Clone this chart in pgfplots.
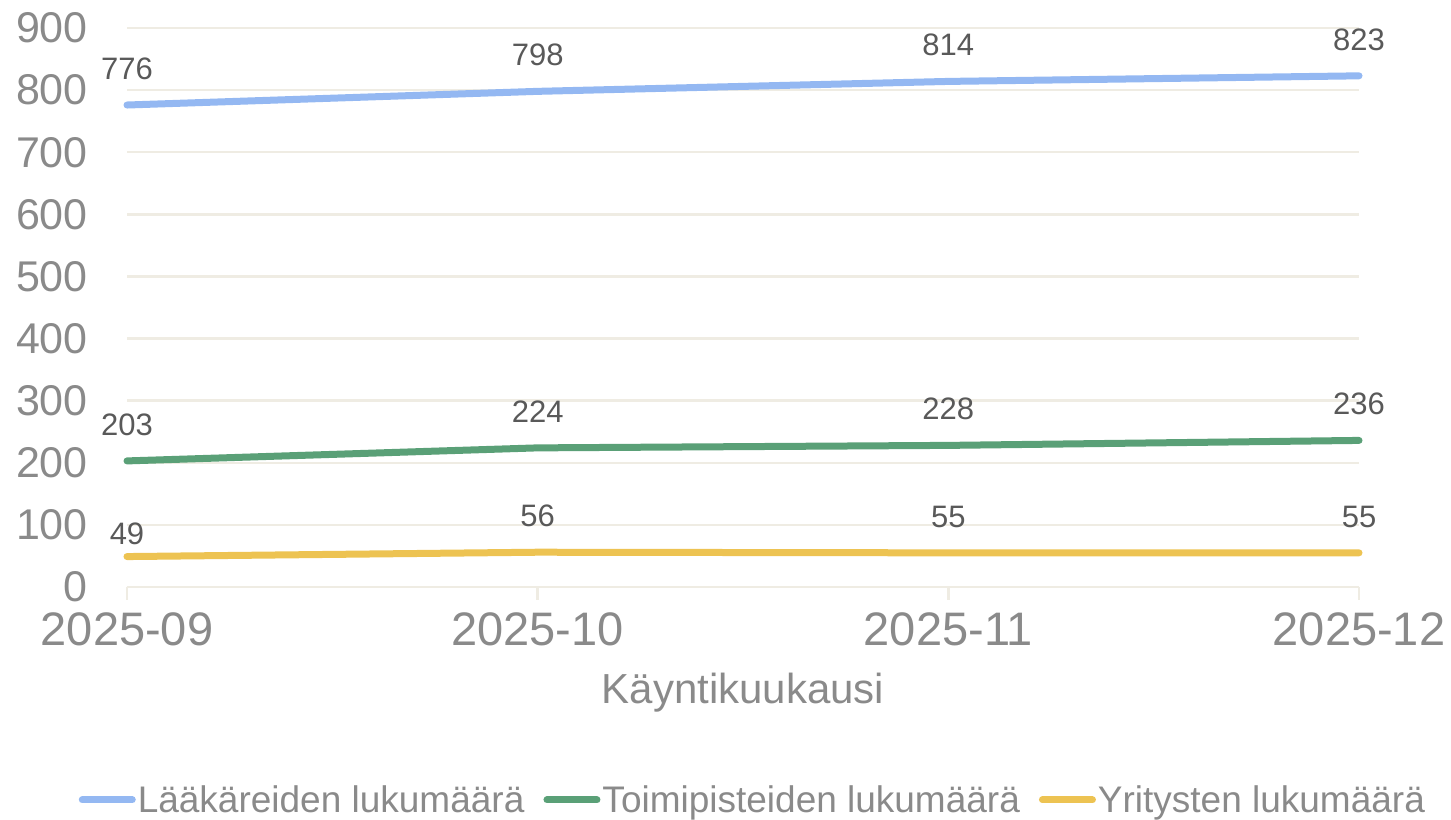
\documentclass[border=0pt]{standalone}
\usepackage{pgfplots}
\usepackage{pgfplotstable}
\pgfplotsset{compat=1.18}
\usepackage{fontspec}
\setmainfont{Liberation Sans}
\definecolor{cblue}{HTML}{94B8F2}
\definecolor{cgreen}{HTML}{5AA077}
\definecolor{cyellow}{HTML}{EDC352}
\definecolor{cgrid}{HTML}{EFECE3}
\definecolor{ctick}{HTML}{8A8A8A}
\definecolor{clabel}{HTML}{595959}

\pgfplotstableread{
x y dy
0 776 22
1 798 22
2 814 22
3 823 22
}\laak
\pgfplotstableread{
x y dy
0 203 22
1 224 22
2 228 22
3 236 22
}\toimi
\pgfplotstableread{
x y dy
0 49 8
1 56 22
2 55 22
3 55 22
}\yrit

\begin{document}
\begin{tikzpicture}[x=1bp,y=1bp]
\useasboundingbox (-127,-232) rectangle (1324,587);
\begin{axis}[
  at={(0,0)}, anchor=south west,
  scale only axis, width=1232bp, height=559bp,
  clip=false,
  xmin=0, xmax=3, ymin=0, ymax=900,
  xtick={0,1,2,3},
  xticklabels={2025-09,2025-10,2025-11,2025-12},
  ytick={0,100,...,900},
  /pgf/number format/assume math mode=true,
  axis x line*=bottom, axis y line*=left,
  x axis line style={draw=cgrid, line width=2.5bp, -},
  y axis line style={draw=none},
  ymajorgrids,
  grid style={draw=cgrid, line width=2.5bp},
  tick align=outside,
  major tick length=13bp,
  xtick style={draw=cgrid, line width=2.5bp},
  ytick style={draw=none},
  xticklabel style={font=\fontsize{47bp}{50bp}\selectfont, text=ctick, inner sep=0pt, anchor=north, yshift=-12bp},
  yticklabel style={font=\fontsize{43bp}{46bp}\selectfont, text=ctick, inner sep=0pt, anchor=east, xshift=-26bp},
  xlabel={Käyntikuukausi},
  xlabel style={font=\fontsize{42bp}{46bp}\selectfont, text=ctick, at={(axis description cs:0.5,0)}, anchor=center, yshift=-106bp},
  nodes near coords,
  every node near coord/.append style={font=\fontsize{31bp}{34bp}\selectfont, text=clabel, inner sep=0pt, anchor=south, yshift=\dy bp},
  visualization depends on={\thisrow{dy} \as \dy},
  point meta=explicit symbolic,
  legend columns=3,
  legend style={at={(0.508,-0.381)}, anchor=center, draw=none, fill=none,
    font=\fontsize{37bp}{40bp}\selectfont, text=ctick,
    /tikz/every even column/.append style={column sep=17bp},
    nodes={inner sep=2bp}},
  legend cell align=left,
  legend image code/.code={\draw[line width=7bp, line cap=round] (0bp,0bp) -- (50bp,0bp);},
]
\addplot[cblue, line width=7bp, line cap=round] table[x=x, y=y, meta=y] {\laak};
\addlegendentry{Lääkäreiden lukumäärä}
\addplot[cgreen, line width=7bp, line cap=round] table[x=x, y=y, meta=y] {\toimi};
\addlegendentry{Toimipisteiden lukumäärä}
\addplot[cyellow, line width=7bp, line cap=round] table[x=x, y=y, meta=y] {\yrit};
\addlegendentry{Yritysten lukumäärä}
\end{axis}
\end{tikzpicture}
\end{document}
